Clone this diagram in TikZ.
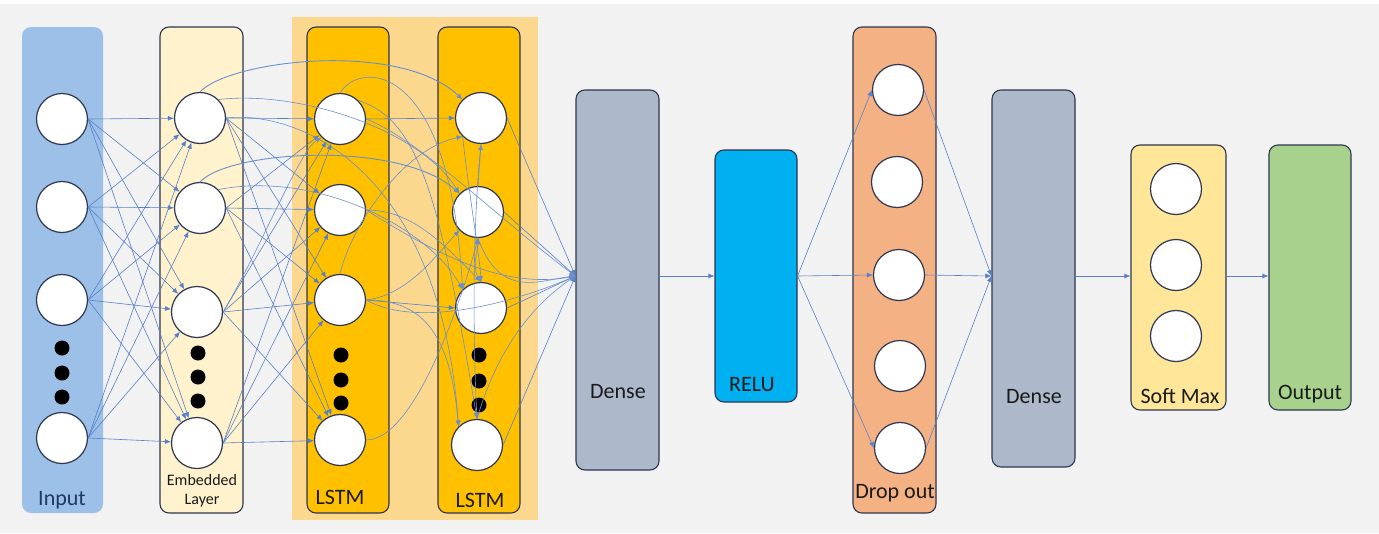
\documentclass[tikz,border=0pt]{standalone}
\usepackage{fontspec}
\setmainfont{Carlito}
\usetikzlibrary{arrows.meta}
\definecolor{bg}{HTML}{F2F2F2}
\definecolor{edge}{HTML}{2E3650}
\definecolor{inblue}{HTML}{9DC0E8}
\definecolor{embfill}{HTML}{FFF2CC}
\definecolor{lstmbg}{HTML}{FCD88E}
\definecolor{lstmfill}{HTML}{FFC000}
\definecolor{densefill}{HTML}{ADB9CA}
\definecolor{relufill}{HTML}{00B0F0}
\definecolor{dropfill}{HTML}{F4B183}
\definecolor{softfill}{HTML}{FFE699}
\definecolor{outfill}{HTML}{A9D18E}
\definecolor{conn}{HTML}{4472C4}
\definecolor{txt}{HTML}{1A1A1A}
\definecolor{intxt}{HTML}{1F3864}
\begin{document}
\begin{tikzpicture}[x=1pt,y=-1pt,
  layer/.style={draw=edge, line width=1.1pt, rounded corners=9pt, inner sep=0pt},
  neuron/.style={circle, draw=edge, fill=white, line width=1.2pt, minimum size=51pt, inner sep=0pt},
  dot/.style={circle, fill=black, minimum size=15pt, inner sep=0pt},
  lbl/.style={font=\fontsize{22}{24}\selectfont, text=txt, inner sep=0pt},
  wire/.style={draw=conn!90, line width=0.6pt, -{Latex[length=6pt,width=5pt]}},
  cwire/.style={draw=conn!80, line width=0.6pt, -{Latex[length=6pt,width=5pt]}}
]
\useasboundingbox (0,0) rectangle (1379,533);
\fill[bg] (0,0) rectangle (1379,533);
\fill[white] (0,0) rectangle (1379,4);

% layers
\node (inp) [layer, draw=none, fill=inblue, minimum width=81pt, minimum height=486pt] at (62.5,270) {};
\node (emb) [layer, fill=embfill, minimum width=83pt, minimum height=486pt] at (201.5,270) {};
\node (lbg) [fill=lstmbg, minimum width=246pt, minimum height=503pt, inner sep=0pt] at (415,268.5) {};
\node (l1) [layer, fill=lstmfill, minimum width=82pt, minimum height=486pt] at (348,270) {};
\node (l2) [layer, fill=lstmfill, minimum width=82pt, minimum height=486pt] at (479,270) {};
\node (d1) [layer, fill=densefill, minimum width=83pt, minimum height=380pt] at (617.5,280) {};
\node (relu) [layer, fill=relufill, minimum width=82pt, minimum height=252pt] at (756,276) {};
\node (drop) [layer, fill=dropfill, minimum width=83pt, minimum height=486pt] at (894.5,270) {};
\node (d2) [layer, fill=densefill, minimum width=83pt, minimum height=377pt] at (1033.5,278.5) {};
\node (soft) [layer, fill=softfill, minimum width=95pt, minimum height=265pt] at (1178.5,277.5) {};
\node (outp) [layer, fill=outfill, minimum width=82pt, minimum height=265pt] at (1310,277.5) {};

% labels
\node (tin) [lbl, text=intxt] at (62,500) {Input};
\node (temb) [lbl, font=\fontsize{16}{19}\selectfont, align=center] at (202,491) {Embedded\\Layer};
\node (tl1) [lbl] at (340,497) {LSTM};
\node (tl2) [lbl] at (480,500) {LSTM};
\node (td1) [lbl] at (618,392) {Dense};
\node (trelu) [lbl] at (752,385) {RELU};
\node (tdrop) [lbl] at (895,493) {Drop out};
\node (td2) [lbl] at (1034,397) {Dense};
\node (tsoft) [lbl] at (1180,396) {Soft Max};
\node (tout) [lbl] at (1310,394) {Output};

% neurons
\node (i1) [neuron] at (62,119) {};
\node (i2) [neuron] at (62,207) {};
\node (i3) [neuron] at (62,300) {};
\node (i4) [neuron] at (62,438) {};
\node (e1) [neuron] at (200,118) {};
\node (e2) [neuron] at (200,208) {};
\node (e3) [neuron] at (197,312) {};
\node (e4) [neuron] at (197,443) {};
\node (a1) [neuron] at (340,119) {};
\node (a2) [neuron] at (340,210) {};
\node (a3) [neuron] at (340,300) {};
\node (a4) [neuron] at (340,440) {};
\node (b1) [neuron] at (481,118) {};
\node (b2) [neuron] at (478,212) {};
\node (b3) [neuron] at (481,308) {};
\node (b4) [neuron] at (477,445) {};
\node (p1) [neuron] at (898,90) {};
\node (p2) [neuron] at (897,182) {};
\node (p3) [neuron] at (899,275) {};
\node (p4) [neuron] at (900,366) {};
\node (p5) [neuron] at (900,448) {};
\node (s1) [neuron] at (1176,189) {};
\node (s2) [neuron] at (1176,265) {};
\node (s3) [neuron] at (1176,336) {};

% dots
\node (id1) [dot] at (62,348) {};
\node (id2) [dot] at (62,373) {};
\node (id3) [dot] at (62,397) {};
\node (ed1) [dot] at (198,353) {};
\node (ed2) [dot] at (198,377) {};
\node (ed3) [dot] at (198,401) {};
\node (ad1) [dot] at (341,355) {};
\node (ad2) [dot] at (341,380) {};
\node (ad3) [dot] at (341,403) {};
\node (bd1) [dot] at (479,355) {};
\node (bd2) [dot] at (479,381) {};
\node (bd3) [dot] at (479,405) {};

% flow anchor points
\coordinate (d1w) at (d1.west |- 0,276);
\coordinate (d2w) at (d2.west |- 0,276);

% input -> embedded
\foreach \s in {1,2,3,4}{
  \foreach \t in {1,2,3,4}{
    \draw[wire] (i\s.east) -- (e\t);
  }
}
% embedded -> lstm1
\foreach \s in {1,2,3,4}{
  \foreach \t in {1,2,3,4}{
    \draw[wire] (e\s.east) -- (a\t);
  }
}
% lstm1 -> lstm2
\draw[wire] (a1.east) -- (b1.west);
\draw[wire] (a3.east) -- (b3.west);
\draw[cwire] (a3.east) .. controls (420,300) and (450,330) .. (b4.north west);
\draw[cwire] (a3.east) .. controls (410,295) and (440,250) .. (b2.south west);
\draw[cwire] (a3.north) .. controls (350,230) and (400,150) .. (b1.south west);
\draw[cwire] (a4.east) .. controls (420,440) and (470,270) .. (b2.south);
\draw[cwire] (a1.north) .. controls (360,60) and (450,60) .. (b3.north west);
\draw[cwire] (a1.north east) .. controls (420,120) and (440,200) .. (b4.north);
\draw[cwire] (a2.east) .. controls (410,210) and (440,240) .. (b3.north);
% embedded -> lstm2 curves
\draw[cwire, line width=0.9pt] (e1.north) .. controls (230,60) and (400,40) .. (b1.north west);
\draw[cwire] (e1.north east) .. controls (300,90) and (420,130) .. (b2.north west);
\draw[cwire, line width=0.9pt] (e2.north) .. controls (230,150) and (400,140) .. (b2.north west);
\draw[cwire] (e2.north east) .. controls (320,170) and (430,230) .. (b3.north west);
\draw[cwire] (e1.east) .. controls (300,110) and (440,170) .. (b4.north west);
\draw[cwire] (e3.east) .. controls (260,250) and (300,150) .. (a1.south west);
% within lstm2
\draw[cwire] (b2.north) -- (b1.south);
\draw[cwire] (b3.north) .. controls (470,270) and (478,250) .. (b2.south);
\draw[cwire] (b1.south) .. controls (470,250) and (475,380) .. (b4.north);
\draw[cwire] (b1.south west) .. controls (470,200) and (480,260) .. (b3.north);
% to dense 1
\foreach \s in {b1,b2,b3,b4}{
  \draw[wire] (\s.east) -- (d1w);
}
\draw[cwire] (a1.east) .. controls (420,140) and (500,220) .. (d1w);
\draw[cwire] (a2.east) .. controls (430,250) and (500,290) .. (d1w);
\draw[cwire] (b2.south) .. controls (500,300) and (540,280) .. (d1w);
\draw[cwire] (a3.east) .. controls (420,330) and (520,300) .. (d1w);
\draw[cwire] (b4.north) .. controls (500,340) and (540,300) .. (d1w);

% dense1 -> relu -> dropout
\draw[wire] (d1.east |- 0,276) -- (relu.west |- 0,276);
\coordinate (re) at (relu.east |- 0,276);
\draw[wire] (re) -- (p1.west);
\draw[wire] (re) -- (p3.west);
\draw[wire] (re) -- (p5.west);
% dropout -> dense2
\draw[wire] (p1.east) -- (d2w);
\draw[wire] (p3.east) -- (d2w);
\draw[wire] (p5.east) -- (d2w);
% dense2 -> softmax -> output
\draw[wire] (d2.east |- 0,276) -- (soft.west |- 0,276);
\draw[wire] (soft.east |- 0,276) -- (outp.west |- 0,276);
\end{tikzpicture}
\end{document}
